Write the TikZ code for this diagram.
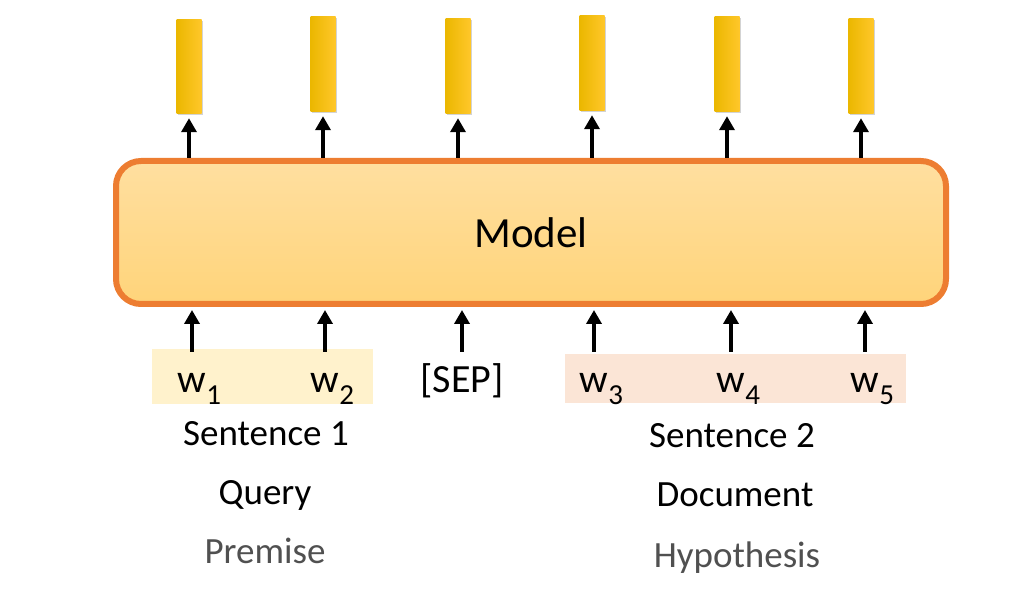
\documentclass[tikz,border=0pt]{standalone}
\usepackage{fontspec}
\setmainfont{Carlito}
\usetikzlibrary{arrows.meta,shadows}
\definecolor{borderor}{HTML}{ED7D31}
\definecolor{boxtop}{HTML}{FFDFA0}
\definecolor{boxbot}{HTML}{FFD47A}
\definecolor{barl}{HTML}{EBB700}
\definecolor{barr}{HTML}{FFC72A}
\definecolor{hlA}{HTML}{FFF2CC}
\definecolor{hlB}{HTML}{FBE5D6}
\definecolor{graytxt}{HTML}{505050}
\tikzset{
  bar/.style={rectangle, minimum width=25pt, minimum height=94pt, inner sep=0pt,
    left color=barl, right color=barr, draw=none,
    drop shadow={shadow xshift=1.2pt, shadow yshift=-1.5pt, opacity=0.35}},
  arr/.style={line width=3.8pt, -{Triangle[width=15pt,length=14pt]}},
  tok/.style={inner sep=0pt, anchor=base, font=\fontsize{40}{48}\selectfont},
  lab/.style={inner sep=0pt, anchor=base, font=\fontsize{37}{44}\selectfont},
  hl/.style={rectangle, inner sep=0pt, draw=none, anchor=north west},
}
\newcommand{\wsub}[1]{w\rlap{\raisebox{-0.28em}{\fontsize{29}{30}\selectfont #1}}}
\begin{document}
\begin{tikzpicture}[x=1pt,y=-1pt]
\useasboundingbox (0,0) rectangle (1029,593);
% highlights
\node[hl, fill=hlA, minimum width=221pt, minimum height=55pt] (hlA) at (152,349) {};
\node[hl, fill=hlB, minimum width=341pt, minimum height=49pt] (hlB) at (565,354) {};
% model box
\node[draw=borderor, line width=6pt, rounded corners=25pt, minimum width=830pt,
  minimum height=143pt, top color=boxtop, bottom color=boxbot,
  font=\fontsize{43}{50}\selectfont] (model) at (531,232.5) {Model};
% output bars
\node[bar, minimum height=94pt] (b1) at (189,67) {};
\node[bar, minimum height=95pt] (b2) at (323,64.5) {};
\node[bar, minimum height=95pt] (b3) at (458,66.5) {};
\node[bar, minimum height=95pt] (b4) at (592,63.5) {};
\node[bar, minimum height=95pt] (b5) at (727,64.5) {};
\node[bar, minimum height=95pt] (b6) at (861,66.5) {};
\foreach \i in {1,...,6}{
  \draw[arr, shorten >=4pt] (model.north -| b\i) -- (b\i.south);
}
% tokens
\node[tok] (t1) at (192,393) {\wsub{1}};
\node[tok] (t2) at (325,393) {\wsub{2}};
\node[tok] (t3) at (462,393) {[SEP]};
\node[tok] (t4) at (594,393) {\wsub{3}};
\node[tok] (t5) at (731,393) {\wsub{4}};
\node[tok] (t6) at (865,393) {\wsub{5}};
\coordinate (p1) at (192,352);
\coordinate (p2) at (325,352);
\coordinate (p3) at (462,352);
\coordinate (p4) at (594,352);
\coordinate (p5) at (731,352);
\coordinate (p6) at (865,352);
\foreach \i in {1,...,6}{
  \draw[arr, shorten >=3pt] (p\i) -- (p\i |- model.south);
}
% labels
\node[lab] (s1) at (266,446) {Sentence 1};
\node[lab] (q1) at (265,505) {Query};
\node[lab, text=graytxt] (pr) at (265,564) {Premise};
\node[lab] (s2) at (732,448) {Sentence 2};
\node[lab] (d2) at (735,507) {Document};
\node[lab, text=graytxt] (hy) at (737,568) {Hypothesis};
\end{tikzpicture}
\end{document}
